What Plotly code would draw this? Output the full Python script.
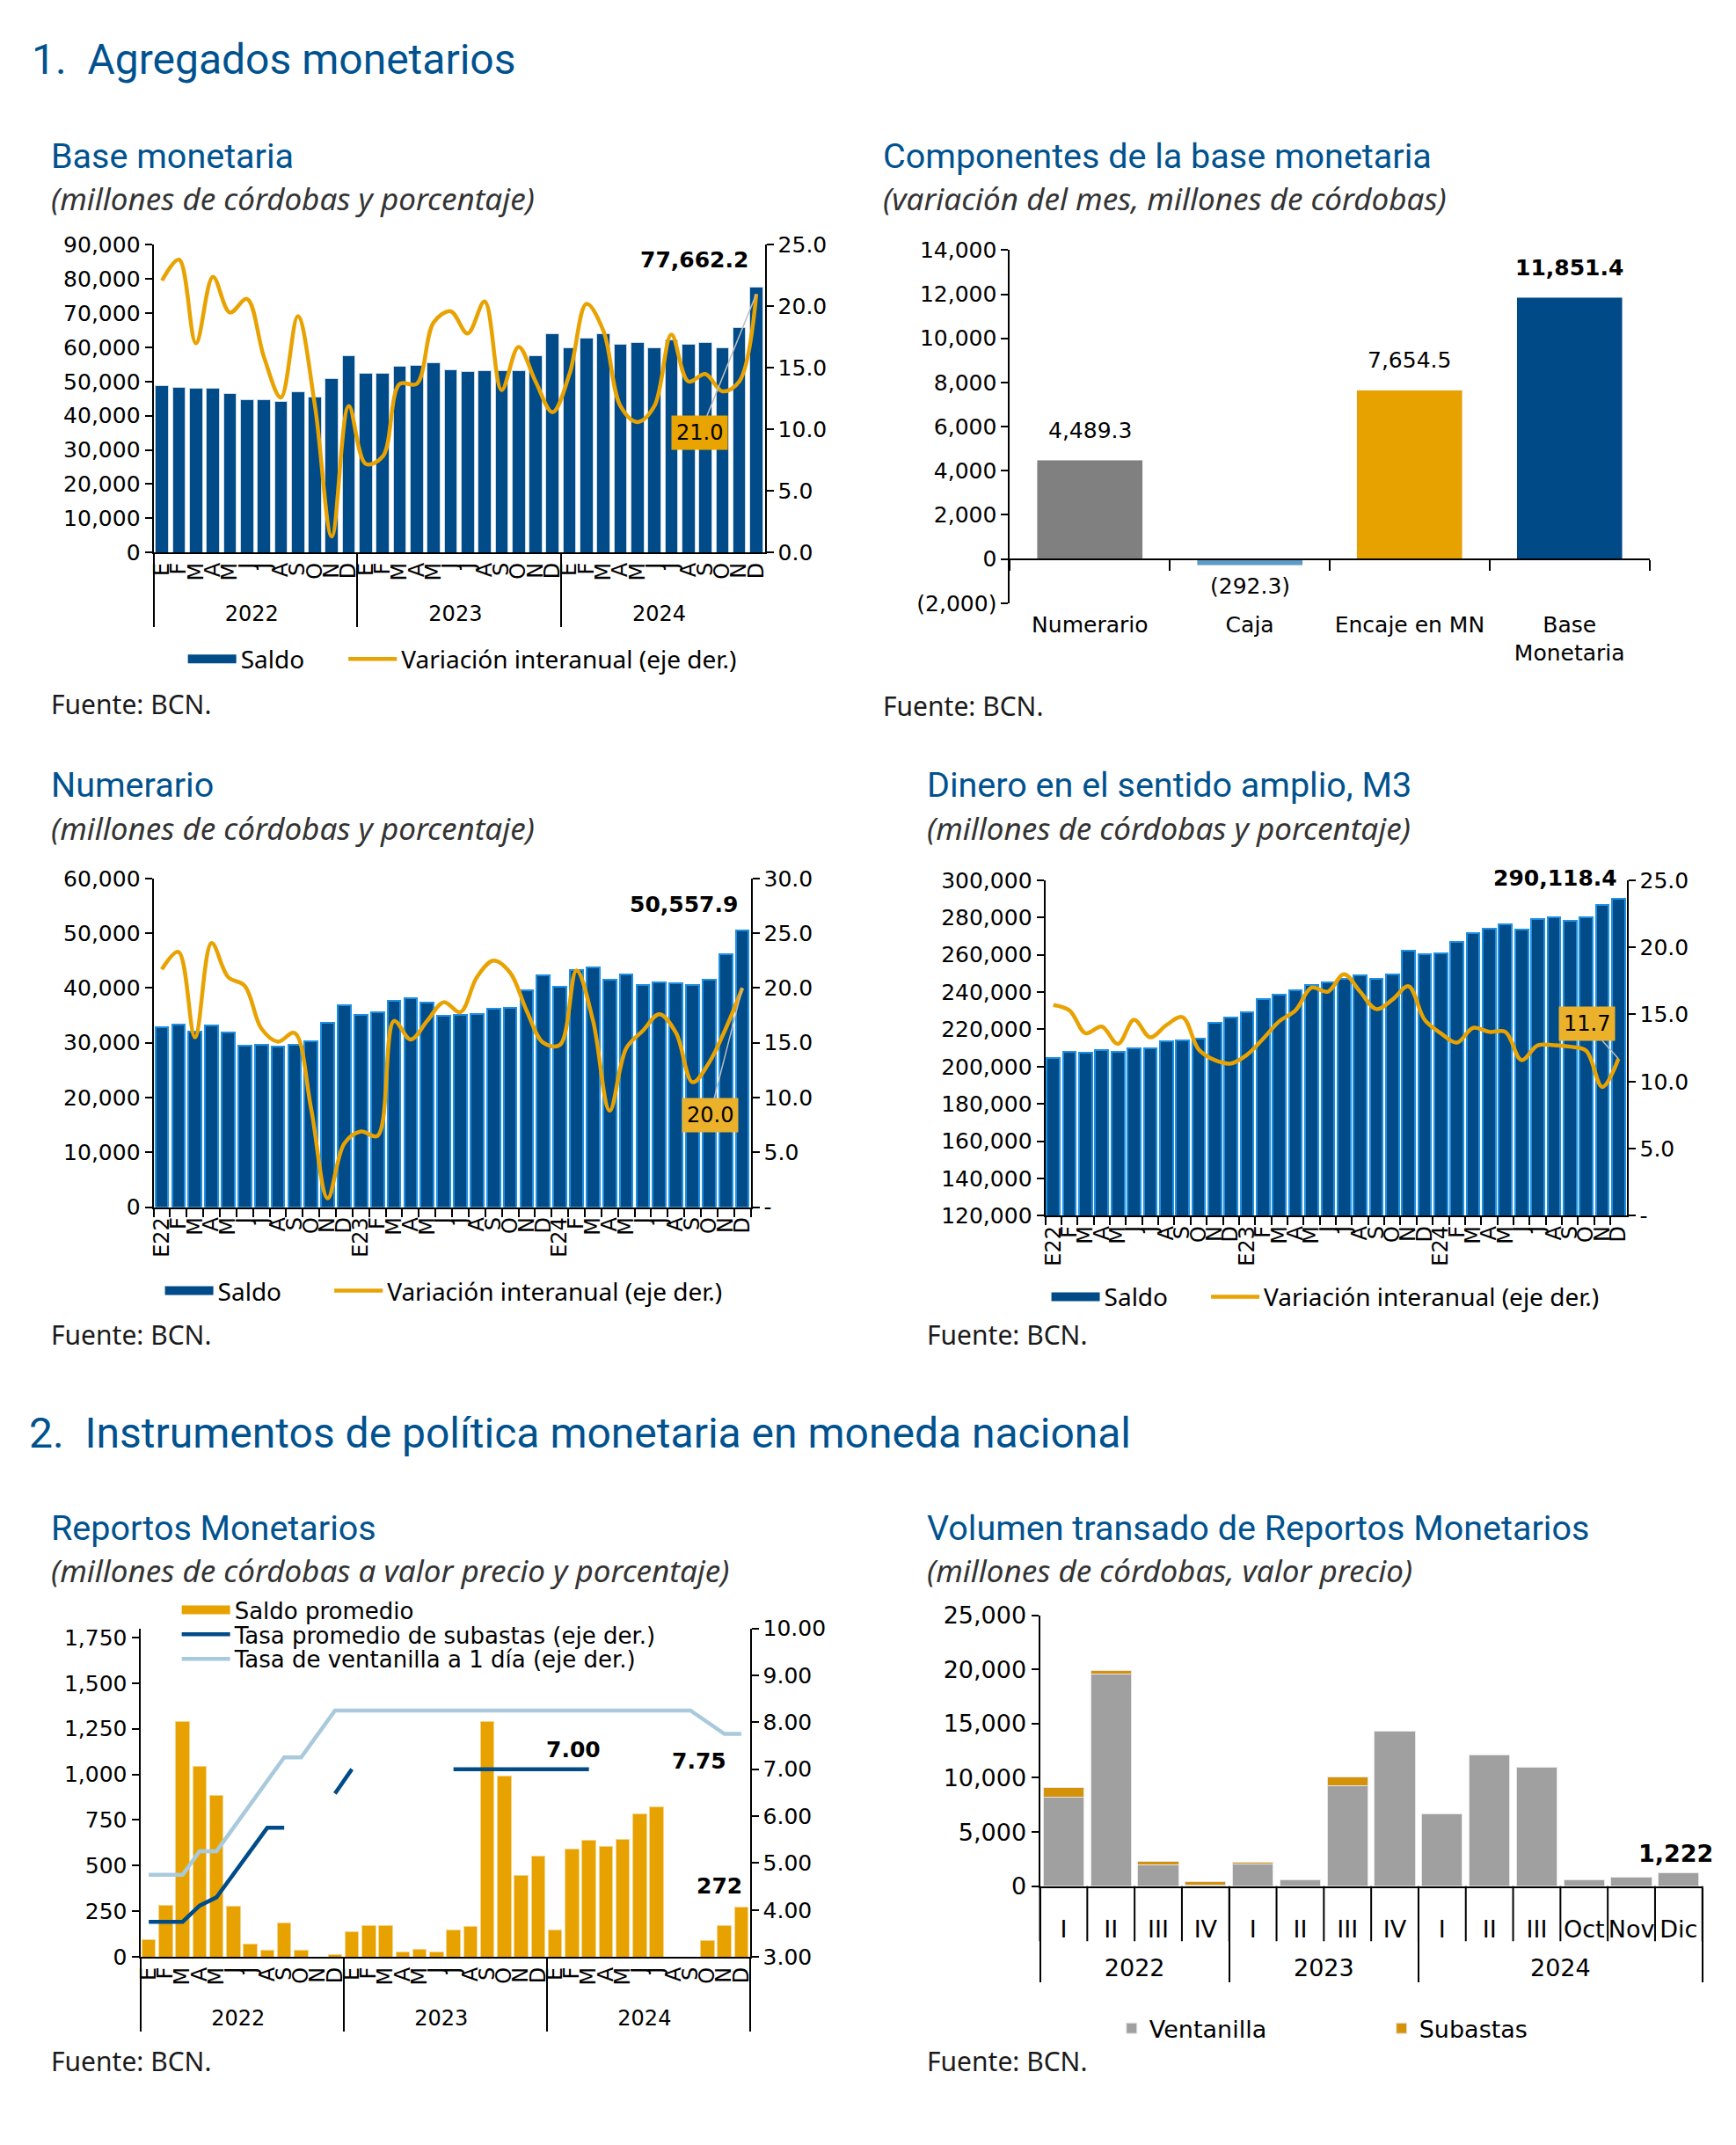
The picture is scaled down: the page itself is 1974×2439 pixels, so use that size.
import plotly.graph_objects as go

# figure fills the 1974x2439 page; positions below are page pixels
W, H = 1974, 2439
SX, SY, OFF = 0.992, 0.9935, 8   # compensation for the page's default body margin

# ---------------- data ----------------
years = ["2022", "2023", "2024"]
month_letters = ["E", "F", "M", "A", "M", "J", "J", "A", "S", "O", "N", "D"]
month_labels_yy = ["E22", "F", "M", "A", "M", "J", "J", "A", "S", "O", "N", "D",
                   "E23", "F", "M", "A", "M", "J", "J", "A", "S", "O", "N", "D",
                   "E24", "F", "M", "A", "M", "J", "J", "A", "S", "O", "N", "D"]

# Base monetaria (millones de córdobas) y variación interanual (%)
base_saldo = [48900, 48300, 48000, 48000, 46400, 44600, 44800, 44200, 47000, 45500, 50800, 57600,
              52300, 52300, 54400, 54800, 55400, 53500, 53000, 53200, 53200, 53200, 57600, 64000,
              60000, 62800, 64000, 61000, 61300, 59800, 62200, 61000, 61300, 60000, 65900, 77662.2]
base_var = [22.1, 23.8, 17.0, 22.4, 19.5, 20.6, 15.9, 12.6, 19.2, 12.0, 1.3, 11.9,
            7.2, 7.8, 13.7, 13.7, 18.7, 19.6, 17.8, 20.4, 13.2, 16.7, 13.9, 11.4,
            14.5, 20.2, 18.0, 11.9, 10.6, 11.9, 17.7, 13.9, 14.5, 13.1, 13.9, 21.0]

# Componentes de la base monetaria
comp_labels = ["Numerario", "Caja", "Encaje en MN", "Base<br>Monetaria"]
comp_values = [4489.3, -292.3, 7654.5, 11851.4]

# Numerario
num_saldo = [32900, 33400, 32100, 33200, 31800, 29500, 29700, 29300, 29700, 30200, 33700, 36800,
             35100, 35500, 37600, 38200, 37300, 34900, 35100, 35300, 36200, 36400, 39600, 42300,
             40300, 43200, 43800, 41500, 42400, 40500, 41100, 40900, 40500, 41500, 46200, 50557.9]
num_var = [21.7, 23.3, 15.5, 24.1, 21.0, 20.2, 16.3, 15.1, 15.9, 9.0, 0.8, 5.8,
           6.9, 6.5, 17.0, 15.3, 17.0, 18.7, 17.8, 21.0, 22.5, 21.4, 17.9, 15.0,
           14.8, 21.6, 17.0, 8.8, 14.5, 16.1, 17.6, 15.9, 11.4, 13.2, 16.3, 20.0]

# M3
m3_saldo = [204700, 208100, 207500, 208750, 208100, 209800, 209800, 213400, 213900, 215000, 223600, 226400,
            229200, 236250, 238400, 240800, 243600, 245300, 247100, 249200, 247100, 249600, 262000, 260200,
            260700, 266900, 271700, 273800, 276200, 273400, 279000, 280300, 278200, 280300, 286600, 290118.4]
m3_var = [15.7, 15.3, 13.6, 14.1, 12.8, 14.6, 13.3, 14.2, 14.8, 12.4, 11.6, 11.35,
          12.0, 13.2, 14.5, 15.3, 17.0, 16.7, 18.0, 16.7, 15.4, 16.1, 17.1, 14.6,
          13.6, 12.9, 14.0, 13.7, 13.7, 11.6, 12.7, 12.7, 12.6, 12.3, 9.6, 11.7]

# Reportos monetarios
rep_saldo = [96, 281, 1288, 1043, 887, 276, 73, 38, 184, 38, 0, 14,
             137, 171, 171, 26, 43, 26, 147, 166, 1287, 992, 446, 550,
             147, 591, 637, 607, 642, 783, 823, 0, 0, 91, 171, 272]
rep_subastas = [3.75, 3.75, 3.75, 4.09, 4.27, 4.76, 5.25, 5.75, 5.75, None, None, 6.48,
                7.0, None, None, None, None, None, 7.0, 7.0, 7.0, 7.0, 7.0, 7.0,
                7.0, 7.0, 7.0, None, None, None, None, None, None, None, None, None]
rep_ventanilla = [4.75, 4.75, 4.75, 5.25, 5.25, 5.75, 6.25, 6.75, 7.25, 7.25, 7.75, 8.25,
                  8.25, 8.25, 8.25, 8.25, 8.25, 8.25, 8.25, 8.25, 8.25, 8.25, 8.25, 8.25,
                  8.25, 8.25, 8.25, 8.25, 8.25, 8.25, 8.25, 8.25, 8.25, 8.0, 7.75, 7.75]

# Volumen transado
vol_years = ["2022"] * 4 + ["2023"] * 4 + ["2024"] * 6
vol_periods = ["I", "II", "III", "IV", "I", "II", "III", "IV", "I", "II", "III", "Oct", "Nov", "Dic"]
vol_ventanilla = [8240, 19540, 1950, 130, 2030, 580, 9270, 14280, 6660, 12090, 10930, 580, 830, 1222]
vol_subastas = [870, 330, 330, 280, 200, 0, 790, 0, 0, 0, 0, 0, 0, 0]

# tick values / labels
base_left_ticks = [0, 10000, 20000, 30000, 40000, 50000, 60000, 70000, 80000, 90000]
base_right_ticks = [0, 5, 10, 15, 20, 25]
comp_ticks = [-2000, 0, 2000, 4000, 6000, 8000, 10000, 12000, 14000]
comp_ticktext = ["(2,000)", "0", "2,000", "4,000", "6,000", "8,000", "10,000", "12,000", "14,000"]
num_left_ticks = [0, 10000, 20000, 30000, 40000, 50000, 60000]
num_right_ticks = [0, 5, 10, 15, 20, 25, 30]
num_right_text = ["-", "5.0", "10.0", "15.0", "20.0", "25.0", "30.0"]
m3_left_ticks = [120000, 140000, 160000, 180000, 200000, 220000, 240000, 260000, 280000, 300000]
m3_right_ticks = [0, 5, 10, 15, 20, 25]
m3_right_text = ["-", "5.0", "10.0", "15.0", "20.0", "25.0"]
rep_left_ticks = [0, 250, 500, 750, 1000, 1250, 1500, 1750]
rep_right_ticks = [3, 4, 5, 6, 7, 8, 9, 10]
vol_ticks = [0, 5000, 10000, 15000, 20000, 25000]

# ---------------- style ----------------
NUMF = "DejaVu Sans"
TITF = "Roboto"
SUBF = "Noto Sans"
TITLE_BLUE = "#00528F"
DBLUE = "#004B88"
ORANGE = "#E8A202"
LIGHTBLUE = "#A9C9DD"
GRAY = "#A0A0A0"
SUBAS = "#D4920B"
BAR_EDGE = "#1F8FE0"


def px(x):
    return (x / SX - OFF) / W


def py(y):
    return 1 - (y / SY - OFF) / H


def xd(l, r):
    return [px(l), px(r)]


def yd(t, b):
    return [py(b), py(t)]


def uniq(labels):
    out, seen = [], {}
    for lab in labels:
        k = seen.get(lab, 0)
        out.append(lab + "\u200b" * k)
        seen[lab] = k + 1
    return out


def fmt(v, dec=1):
    s = f"{abs(v):,.{dec}f}"
    return f"({s})" if v < 0 else s


mc_months = [[y for y in years for _ in range(12)], uniq(month_letters) * 3]
cat_months = uniq(month_labels_yy)

D1 = dict(x=xd(177, 870), y=yd(272, 624))
D2 = dict(x=xd(1148, 1873), y=yd(278, 682))
D3 = dict(x=xd(177, 854), y=yd(997, 1373))
D4 = dict(x=xd(1188, 1847), y=yd(999, 1383))
D5 = dict(x=xd(162, 853), y=yd(1855, 2231))
D6 = dict(x=xd(1182, 1933), y=yd(1840, 2150))

fig = go.Figure()


def legend_swatch(name, color, legend):
    # legend-only entry drawn as a thick bar-like swatch
    fig.add_trace(go.Scatter(x=[None], y=[None], mode="lines", name=name, legend=legend,
                             line=dict(color=color, width=16), xaxis="x2", yaxis="y2",
                             hoverinfo="skip"))


# Chart 2 first so its category axis is set by the bars
fig.add_trace(go.Bar(x=comp_labels, y=comp_values, width=0.66, showlegend=False,
                     marker=dict(color=["#808080", "#5C9BC6", "#E8A200", "#004A87"]),
                     xaxis="x2", yaxis="y2"))
# Chart 1
fig.add_trace(go.Bar(x=mc_months, y=base_saldo, width=0.76, showlegend=False,
                     marker=dict(color=DBLUE, line=dict(color="#C9D9E8", width=1)),
                     xaxis="x", yaxis="y"))
fig.add_trace(go.Scatter(x=mc_months, y=base_var, mode="lines", name="Variación interanual (eje der.)",
                         line=dict(color=ORANGE, width=4.5, shape="spline", smoothing=1.0),
                         xaxis="x", yaxis="y7", legend="legend6"))
legend_swatch("Saldo", DBLUE, "legend")
# Chart 3
fig.add_trace(go.Bar(x=cat_months, y=num_saldo, width=0.78, showlegend=False,
                     marker=dict(color=DBLUE, line=dict(color=BAR_EDGE, width=2)),
                     xaxis="x3", yaxis="y3"))
fig.add_trace(go.Scatter(x=cat_months, y=num_var, mode="lines", name="Variación interanual (eje der.)",
                         line=dict(color=ORANGE, width=4.5, shape="spline", smoothing=1.0),
                         xaxis="x3", yaxis="y8", legend="legend7"))
legend_swatch("Saldo", DBLUE, "legend2")
# Chart 4
fig.add_trace(go.Bar(x=cat_months, y=m3_saldo, width=0.8, showlegend=False,
                     marker=dict(color=DBLUE, line=dict(color=BAR_EDGE, width=2)),
                     xaxis="x4", yaxis="y4"))
fig.add_trace(go.Scatter(x=cat_months, y=m3_var, mode="lines", name="Variación interanual (eje der.)",
                         line=dict(color=ORANGE, width=4.5, shape="spline", smoothing=1.0),
                         xaxis="x4", yaxis="y9", legend="legend8"))
legend_swatch("Saldo", DBLUE, "legend3")
# Chart 5
fig.add_trace(go.Bar(x=mc_months, y=rep_saldo, width=0.8, showlegend=False,
                     marker=dict(color="#E8A200", line=dict(color="#F5D48A", width=1)),
                     xaxis="x5", yaxis="y5"))
fig.add_trace(go.Scatter(x=mc_months, y=rep_subastas, mode="lines", connectgaps=False,
                         name="Tasa promedio de subastas (eje der.)",
                         line=dict(color=DBLUE, width=4.5),
                         xaxis="x5", yaxis="y10", legend="legend9"))
fig.add_trace(go.Scatter(x=mc_months, y=rep_ventanilla, mode="lines",
                         name="Tasa de ventanilla a 1 día (eje der.)",
                         line=dict(color=LIGHTBLUE, width=4.5),
                         xaxis="x5", yaxis="y10", legend="legend10"))
legend_swatch("Saldo promedio", "#E8A200", "legend4")
# Chart 6 (a blank second line under each period label pushes the year row down)
vol_x = [vol_years, [p + "<br>\u00a0" for p in vol_periods]]
fig.add_trace(go.Bar(x=vol_x, y=vol_ventanilla, width=0.86, name="Ventanilla",
                     marker=dict(color=GRAY, line=dict(color="#E6E6E6", width=1)),
                     xaxis="x6", yaxis="y6", legend="legend5"))
fig.add_trace(go.Bar(x=vol_x, y=vol_subastas, width=0.86, name="Subastas",
                     marker=dict(color=SUBAS, line=dict(color="#E6E6E6", width=1)),
                     xaxis="x6", yaxis="y6", legend="legend11"))

tf = dict(family=NUMF, size=25, color="black")
AX = dict(showgrid=False, zeroline=False, showline=True, linecolor="black", linewidth=2,
          ticks="outside", ticklen=8, tickwidth=2, tickcolor="black", tickfont=tf)
MONTHS = dict(tickmode="linear", tick0=0, dtick=1, tickangle=-90,
              tickfont=dict(family=NUMF, size=24, color="black"))

# zero position for chart 2's category axis
c2_rng = [-2000, 14000]
zero_frac = D2["y"][0] + (0 - c2_rng[0]) / (c2_rng[1] - c2_rng[0]) * (D2["y"][1] - D2["y"][0])

layout = dict(
    width=W, height=H, margin=dict(l=0, r=0, t=0, b=0),
    paper_bgcolor="white", plot_bgcolor="white", barmode="stack",
    font=dict(family=NUMF, color="black"),
    # chart 1
    xaxis=dict(AX, **MONTHS, type="multicategory", domain=D1["x"], anchor="y", ticks="",
               showdividers=True, dividercolor="black", dividerwidth=2),
    yaxis=dict(AX, domain=D1["y"], anchor="x", range=[0, 90000], tickvals=base_left_ticks, tickformat=","),
    yaxis7=dict(AX, overlaying="y", side="right", anchor="x", range=[0, 25],
                tickvals=base_right_ticks, tickformat=".1f"),
    # chart 2
    xaxis2=dict(AX, type="category", domain=D2["x"], anchor="free", position=zero_frac,
                tickson="boundaries", ticklen=12, ticklabelstandoff=52),
    yaxis2=dict(AX, domain=D2["y"], anchor="x2", range=c2_rng, tickvals=comp_ticks, ticktext=comp_ticktext),
    # chart 3
    xaxis3=dict(AX, **MONTHS, type="category", domain=D3["x"], anchor="y3", tickson="boundaries", ticklen=9),
    yaxis3=dict(AX, domain=D3["y"], anchor="x3", range=[0, 60000], tickvals=num_left_ticks, tickformat=","),
    yaxis8=dict(AX, overlaying="y3", side="right", anchor="x3", range=[0, 30],
                tickvals=num_right_ticks, ticktext=num_right_text),
    # chart 4
    xaxis4=dict(AX, **MONTHS, type="category", domain=D4["x"], anchor="y4", tickson="boundaries", ticklen=9),
    yaxis4=dict(AX, domain=D4["y"], anchor="x4", range=[120000, 300000], tickvals=m3_left_ticks, tickformat=","),
    yaxis9=dict(AX, overlaying="y4", side="right", anchor="x4", range=[0, 25],
                tickvals=m3_right_ticks, ticktext=m3_right_text),
    # chart 5
    xaxis5=dict(AX, **MONTHS, type="multicategory", domain=D5["x"], anchor="y5", ticks="",
                showdividers=True, dividercolor="black", dividerwidth=2),
    yaxis5=dict(AX, domain=D5["y"], anchor="x5", range=[0, 1800], tickvals=rep_left_ticks, tickformat=","),
    yaxis10=dict(AX, overlaying="y5", side="right", anchor="x5", range=[3, 10],
                 tickvals=rep_right_ticks, tickformat=".2f"),
    # chart 6
    xaxis6=dict(AX, type="multicategory", domain=D6["x"], anchor="y6", ticks="",
                tickmode="linear", tick0=0, dtick=1, tickangle=0, ticklabelstandoff=24,
                showdividers=True, dividercolor="black", dividerwidth=2,
                tickfont=dict(family=NUMF, size=27, color="black")),
    yaxis6=dict(AX, domain=D6["y"], anchor="x6", range=[0, 25000], tickvals=vol_ticks, tickformat=",",
                tickfont=dict(family=NUMF, size=27, color="black")),
)

LEGF = dict(family=SUBF, size=28, color="black")


def leg(x, y, font, itemwidth=55):
    return dict(orientation="h", x=px(x), y=py(y), xanchor="left", yanchor="middle", font=font,
                itemwidth=itemwidth, bgcolor="rgba(0,0,0,0)", traceorder="normal")


F5 = dict(family=NUMF, size=26, color="black")
F6 = dict(family=NUMF, size=27, color="black")
layout["legend"] = leg(211, 746, LEGF)
layout["legend6"] = leg(393, 746, LEGF)
layout["legend2"] = leg(185, 1469, LEGF)
layout["legend7"] = leg(377, 1469, LEGF)
layout["legend3"] = leg(1190, 1476, LEGF)
layout["legend8"] = leg(1371, 1476, LEGF)
layout["legend4"] = leg(204, 1834, F5)
layout["legend9"] = leg(204, 1862, F5)
layout["legend10"] = leg(204, 1890, F5)
layout["legend5"] = leg(1266, 2313, F6, 30)
layout["legend11"] = leg(1572, 2313, F6, 30)
fig.update_layout(**layout)

# quarter separators on chart 6's category axis (category boundaries)
m6 = len(vol_ventanilla)
shapes = []
for k in range(m6 + 1):
    xb = D6["x"][0] + k / m6 * (D6["x"][1] - D6["x"][0])
    shapes.append(dict(type="line", xref="paper", yref="paper", x0=xb, x1=xb, y0=py(2150), y1=py(2213),
                       line=dict(color="black", width=2)))
fig.update_layout(shapes=shapes)

anns = []


def txt(t, x, y, size, color="#1a1a1a", family=TITF):
    anns.append(dict(text=t, x=px(x), y=py(y), xref="paper", yref="paper", xanchor="left",
                     yanchor="middle", showarrow=False, font=dict(family=family, size=size, color=color)))


# headings
txt("1.  Agregados monetarios", 37, 60, 48, TITLE_BLUE)
txt("2.  Instrumentos de política monetaria en moneda nacional", 34, 1632, 48, TITLE_BLUE)
sub_titles = [
    ("Base monetaria", "(millones de córdobas y porcentaje)", 59, 170),
    ("Componentes de la base monetaria", "(variación del mes, millones de córdobas)", 1002, 170),
    ("Numerario", "(millones de córdobas y porcentaje)", 59, 890),
    ("Dinero en el sentido amplio, M3", "(millones de córdobas y porcentaje)", 1052, 890),
    ("Reportos Monetarios", "(millones de córdobas a valor precio y porcentaje)", 59, 1740),
    ("Volumen transado de Reportos Monetarios", "(millones de córdobas, valor precio)", 1052, 1740),
]
for t, s, x, y in sub_titles:
    txt(t, x, y, 39.5, TITLE_BLUE)
    txt("<i>" + s + "</i>", x, y + 49, 35, "#333333", SUBF)
for x, y in [(59, 797), (1002, 799), (59, 1519), (1052, 1519), (59, 2350), (1052, 2350)]:
    txt("Fuente: BCN.", x, y, 30, "#1a1a1a", SUBF)


def catx(dom, n, i):
    return dom[0] + (i + 0.5) / n * (dom[1] - dom[0])


def data_lab(t, dom, n, i, yref, yv, dx, dy, bold=True, size=25):
    anns.append(dict(text=("<b>%s</b>" % t) if bold else t, x=catx(dom, n, i), y=yv, xref="paper",
                     yref=yref, xanchor="center", yanchor="middle", showarrow=False,
                     xshift=dx, yshift=dy, font=dict(family=NUMF, size=size, color="black")))


def box_lab(t, dom, n, i, yref, yv, ax, ay, color):
    anns.append(dict(text=t, x=catx(dom, n, i), y=yv, xref="paper", yref=yref, showarrow=True,
                     arrowhead=0, arrowwidth=1.5, arrowcolor="#BFBFBF", ax=ax, ay=ay, standoff=0,
                     bgcolor=color, borderpad=5, font=dict(family=NUMF, size=24, color="black")))


n = len(base_saldo)
data_lab(fmt(base_saldo[-1]), D1["x"], n, n - 1, "y", base_saldo[-1], -70, 31)
box_lab(fmt(base_var[-1]), D1["x"], n, n - 1, "y7", base_var[-1], -64, 158, "#E9A400")
data_lab(fmt(num_saldo[-1]), D3["x"], n, n - 1, "y3", num_saldo[-1], -67, 29)
box_lab(fmt(num_var[-1]), D3["x"], n, n - 1, "y8", num_var[-1], -37, 145, "#EBB12B")
data_lab(fmt(m3_saldo[-1]), D4["x"], n, n - 1, "y4", m3_saldo[-1], -72, 23)
box_lab(fmt(m3_var[-1]), D4["x"], n, n - 1, "y9", m3_var[-1], -36, -40, "#EBB12B")

# chart 2 labels
for i, v in enumerate(comp_values):
    data_lab(fmt(v), D2["x"], len(comp_values), i, "y2", v, 0, 34 if v >= 0 else -24,
             bold=(i == len(comp_values) - 1))

# chart 5 labels
last_sub = max(i for i, v in enumerate(rep_subastas) if v is not None)
data_lab(f"{rep_subastas[last_sub]:.2f}", D5["x"], n, last_sub, "y10", rep_subastas[last_sub], -18, 22)
data_lab(f"{rep_ventanilla[-1]:.2f}", D5["x"], n, n - 1, "y10", rep_ventanilla[-1], -48, -31)
data_lab(f"{rep_saldo[-1]:,.0f}", D5["x"], n, n - 1, "y5", rep_saldo[-1], -25, 24)

# chart 6 label
tot = vol_ventanilla[-1] + vol_subastas[-1]
data_lab(f"{tot:,.0f}", D6["x"], m6, m6 - 1, "y6", tot, -3, 22, size=27)

fig.update_layout(annotations=anns)
fig.write_html("out.html", config={"displayModeBar": False},
               post_script="document.body.style.margin='0px';")
